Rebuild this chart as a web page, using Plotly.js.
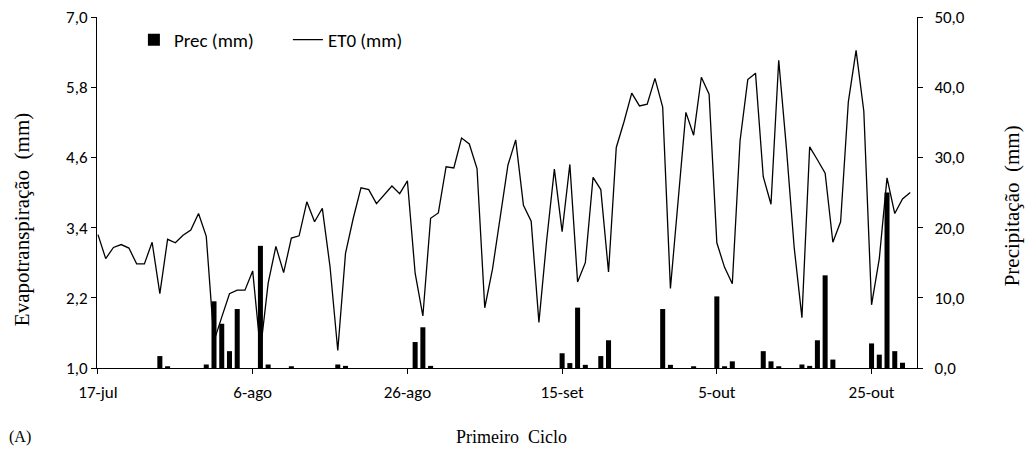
<!DOCTYPE html>
<html>
<head>
<meta charset="utf-8">
<script src="https://cdn.plot.ly/plotly-3.0.1.min.js"></script>
<style>
html,body{margin:0;padding:0;background:#fff;}
#chart{width:1027px;height:454px;}
</style>
</head>
<body>
<div id="chart"></div>
<script>
// Daily series starting 17-jul (106 days, to 30-out)
const startDate = [2013, 6, 17];
const et0 = [
  3.28, 2.87, 3.06, 3.11, 3.05, 2.78, 2.78, 3.15, 2.27, 3.20,
  3.14, 3.27, 3.36, 3.64, 3.25, 1.46, 1.87, 2.27, 2.33, 2.33,
  2.66, 1.30, 2.45, 3.08, 2.63, 3.22, 3.26, 3.84, 3.50, 3.73,
  2.73, 1.30, 2.96, 3.56, 4.08, 4.05, 3.81, 3.96, 4.11, 3.98,
  4.20, 2.62, 1.89, 3.56, 3.65, 4.44, 4.42, 4.93, 4.83, 4.41,
  2.03, 2.69, 3.62, 4.47, 4.90, 3.78, 3.51, 1.78, 3.18, 4.40,
  3.33, 4.48, 2.47, 2.80, 4.26, 4.05, 2.64, 4.77, 5.21, 5.70,
  5.48, 5.51, 5.95, 5.46, 2.36, 3.93, 5.37, 4.98, 5.97, 5.68,
  3.14, 2.72, 2.44, 4.88, 5.93, 6.04, 4.27, 3.80, 6.26, 4.75,
  3.06, 1.86, 4.78, 4.56, 4.33, 3.15, 3.50, 5.55, 6.43, 5.39,
  2.08, 2.87, 4.25, 3.64, 3.89, 4.00
];
const prec = [
  0, 0, 0, 0, 0, 0, 0, 0, 1.7, 0.25,
  0, 0, 0, 0, 0.5, 9.5, 6.3, 2.4, 8.4, 0,
  0, 17.4, 0.5, 0, 0, 0.25, 0, 0, 0, 0,
  0, 0.5, 0.3, 0, 0, 0, 0, 0, 0, 0,
  0, 3.7, 5.8, 0.3, 0, 0, 0, 0, 0, 0,
  0, 0, 0, 0, 0, 0, 0, 0, 0, 0,
  2.1, 0.7, 8.6, 0.45, 0, 1.7, 3.95, 0, 0, 0,
  0, 0, 0, 8.4, 0.45, 0, 0, 0.25, 0, 0,
  10.2, 0.25, 0.95, 0, 0, 0, 2.4, 0.95, 0.25, 0,
  0, 0.5, 0.3, 3.95, 13.2, 1.2, 0, 0, 0, 0,
  3.5, 1.9, 25.0, 2.4, 0.75, 0
];
const tickDates = ['2013-07-17','2013-08-06','2013-08-26','2013-09-15','2013-10-05','2013-10-25'];
const tickLabels = ['17-jul','6-ago','26-ago','15-set','5-out','25-out'];
const leftTicks = [1.0, 2.2, 3.4, 4.6, 5.8, 7.0];
const rightTicks = [0, 10, 20, 30, 40, 50];
const seriesNames = ['Prec (mm)', 'ET0 (mm)'];

const dates = et0.map((_, i) =>
  new Date(Date.UTC(startDate[0], startDate[1], startDate[2] + i)).toISOString().slice(0, 10));

const sans = 'Carlito, Lato, "Open Sans", sans-serif';
const tickFont = {family: sans, size: 17, color: '#000'};
const serifFamily = '"Liberation Serif", "DejaVu Serif", serif';
const serif = {family: serifFamily, size: 18, color: '#000'};
const serifTitle = {family: serifFamily, size: 21, color: '#000'};

const traces = [
  {
    type: 'bar', name: seriesNames[0], x: dates, y: prec, yaxis: 'y2',
    marker: {color: '#000', line: {width: 0}}
  },
  {
    type: 'scatter', mode: 'lines', name: seriesNames[1], x: dates, y: et0,
    line: {color: '#000', width: 1.3}
  }
];

const axisCommon = {
  showline: true, linecolor: '#000', linewidth: 1, showgrid: false, zeroline: false,
  ticks: 'outside', ticklen: 5, tickcolor: '#000', tickwidth: 1, tickfont: tickFont
};

const layout = {
  width: 1027, height: 454,
  margin: {l: 97, r: 110, t: 17, b: 86},
  paper_bgcolor: '#fff', plot_bgcolor: '#fff',
  separators: ',.',
  bargap: 0.35,
  showlegend: true,
  legend: {
    orientation: 'h', x: 0.045, y: 0.935, xanchor: 'left', yanchor: 'middle',
    font: {family: sans, size: 19, color: '#000'},
    bgcolor: 'rgba(0,0,0,0)', entrywidth: 109, entrywidthmode: 'pixels',
    traceorder: 'normal'
  },
  xaxis: Object.assign({}, axisCommon, {
    type: 'date', range: ['2013-07-16 21:00', '2013-10-30 21:00'],
    tickmode: 'array', tickvals: tickDates, ticktext: tickLabels,
    ticklabelstandoff: 4
  }),
  yaxis: Object.assign({}, axisCommon, {
    range: [1, 7], tickmode: 'array', tickvals: leftTicks, tickformat: '.1f'
  }),
  yaxis2: Object.assign({}, axisCommon, {
    overlaying: 'y', side: 'right', range: [0, 50], tickmode: 'array',
    tickvals: rightTicks, tickformat: '.1f', ticklabelstandoff: 8
  }),
  annotations: [
    {text: 'Evapotranspiração\u00a0\u00a0(mm)', xref: 'paper', yref: 'paper',
     x: -0.0915, y: 0.424, textangle: -90, showarrow: false, font: serifTitle,
     xanchor: 'center', yanchor: 'middle'},
    {text: 'Precipitação\u00a0\u00a0(mm)', xref: 'paper', yref: 'paper',
     x: 1.116, y: 0.461, textangle: -90, showarrow: false, font: serifTitle,
     xanchor: 'center', yanchor: 'middle'},
    {text: 'Primeiro\u00a0\u00a0Ciclo', xref: 'paper', yref: 'paper',
     x: 0.506, y: -0.198, showarrow: false, font: serif,
     xanchor: 'center', yanchor: 'middle'},
    {text: '(A)', xref: 'paper', yref: 'paper',
     x: -0.094, y: -0.198, showarrow: false,
     font: Object.assign({}, serif, {size: 16}),
     xanchor: 'center', yanchor: 'middle'}
  ]
};

Plotly.newPlot('chart', traces, layout, {displayModeBar: false, staticPlot: true});
</script>
</body>
</html>
